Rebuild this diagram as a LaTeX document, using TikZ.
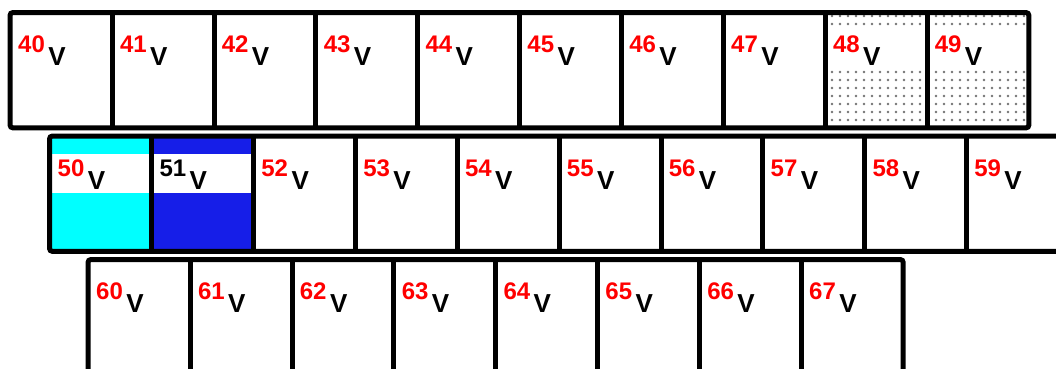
\documentclass[tikz,border=0pt]{standalone}
\usepackage{fontspec}
\setmainfont{Liberation Sans}
\usetikzlibrary{positioning, calc, patterns.meta}
\definecolor{cellblue}{RGB}{22,30,232}
\definecolor{cellcyan}{RGB}{0,255,255}

\begin{document}
\begin{tikzpicture}[
  x=1pt, y=-1pt,
  cell/.style={rectangle, inner sep=0pt, minimum width=101.85pt, minimum height=115pt, anchor=north west},
  rowframe/.style={line width=5pt, rounded corners=3pt},
  divider/.style={line width=5pt},
  num/.style={font=\bfseries\fontsize{24}{24}\selectfont, inner sep=0pt, anchor=base west},
  volt/.style={font=\bfseries\fontsize{26}{26}\selectfont, inner sep=0pt, anchor=base west},
  dotfill/.style={pattern={Dots[distance=8pt, radius=1.3pt]}, pattern color=black!55}
]
\useasboundingbox (0,0) rectangle (1056,368);

% cells of the three rows
\foreach \first/\rx/\ry/\count in {40/10/12.5/10, 50/49.5/136/10, 60/88/259.5/8} {
  \foreach \i in {1,...,\count} {
    \pgfmathtruncatemacro{\n}{\first+\i-1}
    \node[cell] (c\n) at (\rx+\i*101.85-101.85, \ry) {};
  }
}

% shaded cells, with a white band behind the label
\fill[dotfill] (c48.north west) rectangle (c49.south east);
\fill[cellcyan] (c50.north west) rectangle (c50.south east);
\fill[cellblue] (c51.north west) rectangle (c51.south east);
\foreach \n in {48,49,50,51}
  \fill[white] ($(c\n.north west)+(0,17.5)$) rectangle ($(c\n.north east)+(0,56.5)$);

% labels
\foreach \n in {40,...,67} {
  \ifnum\n=51 \def\numcol{black}\else\def\numcol{red}\fi
  \node[num, text=\numcol] (n\n) at ($(c\n.north west)+(8,40)$) {\n};
  \node[volt] (v\n) at ($(n\n.base east)+(3,13)$) {V};
}

% frames and dividers
\foreach \first/\last in {40/48, 50/58, 60/66}
  \foreach \n in {\first,...,\last}
    \draw[divider] (c\n.north east) -- (c\n.south east);
\draw[rowframe] (c40.north west) rectangle (c49.south east);
\draw[rowframe] (c50.north west) rectangle (c59.south east);
\draw[rowframe] (c60.north west) rectangle (c67.south east);
\end{tikzpicture}
\end{document}
